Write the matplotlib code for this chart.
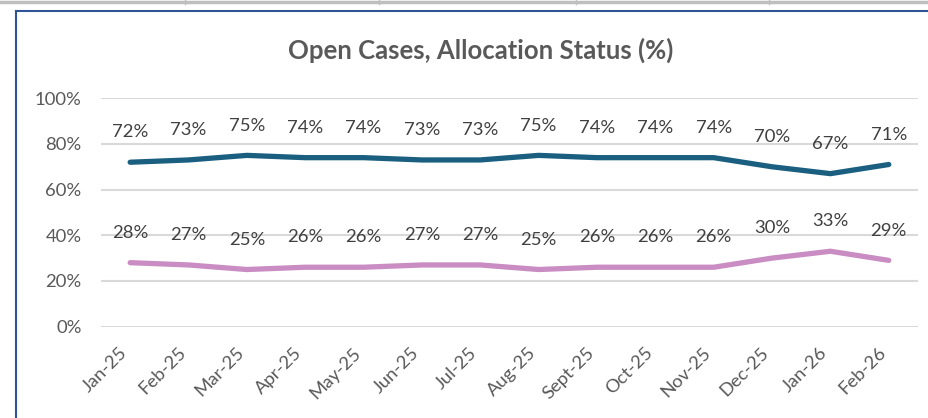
import matplotlib

matplotlib.use("Agg")

import matplotlib.pyplot as plt
from matplotlib.lines import Line2D
from matplotlib.ticker import PercentFormatter


# ============================================================
# DATA
# ============================================================

months = [
    "Jan-25", "Feb-25", "Mar-25", "Apr-25", "May-25", "Jun-25", "Jul-25",
    "Aug-25", "Sept-25", "Oct-25", "Nov-25", "Dec-25", "Jan-26", "Feb-26",
]

allocated = [72, 73, 75, 74, 74, 73, 73, 75, 74, 74, 74, 70, 67, 71]
unallocated = [28, 27, 25, 26, 26, 27, 27, 25, 26, 26, 26, 30, 33, 29]

y_ticks = [0, 20, 40, 60, 80, 100]

TITLE = "Open Cases, Allocation Status (%)"


# ============================================================
# STYLE
# ============================================================

plt.rcParams["font.family"] = ["Lato", "DejaVu Sans"]

DARK_BLUE = "#1B5F80"
PINK = "#C98DC3"
GRID = "#D9D9D9"
TEXT = "#404040"
AXIS_TEXT = "#595959"
BORDER = "#2F5597"


fig = plt.figure(figsize=(9.29, 4.18), dpi=100)
ax = fig.add_axes([0.1087, 0.2187, 0.8794, 0.5461])

x = list(range(len(months)))

for values, colour in [(allocated, DARK_BLUE), (unallocated, PINK)]:
    ax.plot(
        x,
        values,
        color=colour,
        linewidth=3.8,
        solid_capstyle="round",
        solid_joinstyle="round",
        zorder=3,
    )
    for xi, v in zip(x, values):
        ax.annotate(
            f"{v}%",
            (xi, v),
            xytext=(0, 21.5),
            textcoords="offset points",
            ha="center",
            va="center",
            fontsize=13.3,
            color=TEXT,
            zorder=4,
        )

ax.set_xlim(-0.5, len(months) - 0.5)
ax.set_ylim(0, 100)
ax.set_yticks(y_ticks)
ax.yaxis.set_major_formatter(PercentFormatter(decimals=0))
ax.set_xticks(x)
ax.set_xticklabels(months, rotation=45, ha="right")

ax.grid(axis="y", color=GRID, linewidth=1.5)
ax.set_axisbelow(True)

for spine in ax.spines.values():
    spine.set_visible(False)

ax.tick_params(axis="both", length=0, labelsize=13.3, colors=AXIS_TEXT)
ax.tick_params(axis="y", pad=14)
ax.tick_params(axis="x", pad=13)

fig.text(
    0.5177,
    0.88,
    TITLE,
    ha="center",
    va="center",
    fontsize=18.5,
    fontweight="bold",
    color=AXIS_TEXT,
)

# chart frame and the table edge above it (screenshot furniture)
W, H = 929, 418
fig.add_artist(Line2D([0, 1], [1 - 2 / H, 1 - 2 / H], color="#BFBFBF", linewidth=2.5))
for px in [185, 379, 576, 769]:
    fig.add_artist(Line2D([px / W, px / W], [1, 1 - 4 / H], color="#BFBFBF", linewidth=1))
fig.add_artist(Line2D([16 / W, 1], [1 - 11 / H, 1 - 11 / H], color=BORDER, linewidth=1.5))
fig.add_artist(Line2D([16 / W, 16 / W], [0, 1 - 11 / H], color=BORDER, linewidth=1.5))

fig.savefig("out.png", dpi=100)
